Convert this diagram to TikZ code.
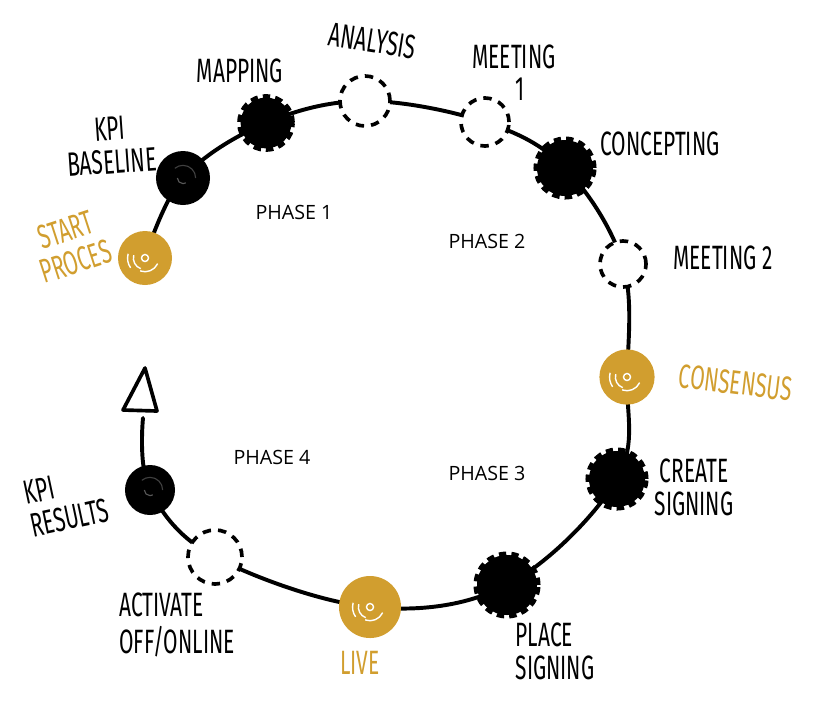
\documentclass[tikz,border=0pt]{standalone}
\usepackage{fontspec}
\usetikzlibrary{backgrounds}
\newfontfamily\handfont{Fira Sans}
\newfontfamily\phasefont{Open Sans}
\definecolor{gold}{RGB}{209,158,47}
\newcommand\hw[2][c]{\scalebox{0.62}[1]{\begin{tabular}{@{}#1@{}}#2\end{tabular}}}
\begin{document}
\begin{tikzpicture}[x=0.025cm, y=-0.025cm,
  ring/.style={line width=2.8pt, line cap=round},
  scribble/.style={circle, fill=black, inner sep=0pt, minimum size=#1,
    path picture={
      \draw[gray!70!black, line width=0.8pt] (path picture bounding box.center) ++(-4pt,0) arc[start angle=180, end angle=300, radius=4pt];
      \draw[gray!50!black, line width=0.8pt] (path picture bounding box.center) ++(9pt,0) arc[start angle=0, end angle=130, radius=9pt];}},
  gear/.style={circle, fill=black, draw=black, line width=5pt, dash pattern=on 5pt off 3.5pt, inner sep=0pt, minimum size=#1},
  dashring/.style={circle, fill=white, draw=black, line width=2.6pt, dash pattern=on 6pt off 5pt, inner sep=0pt, minimum size=#1},
  goldspot/.style={circle, fill=gold, inner sep=0pt, minimum size=#1,
    path picture={
      \draw[white, line width=1pt] (path picture bounding box.center) circle (2.5pt);
      \draw[white, line width=1pt] (path picture bounding box.center) ++(-8pt,2pt) arc[start angle=165, end angle=250, radius=8pt];
      \draw[white, line width=1pt] (path picture bounding box.center) ++(-12pt,3pt) arc[start angle=165, end angle=215, radius=12pt];
      \draw[white, line width=1pt] (path picture bounding box.center) ++(9pt,-4pt) arc[start angle=-25, end angle=-110, radius=10pt];}},
  hand/.style={font=\handfont\fontsize{24}{22}\selectfont, inner sep=0pt},
  phase/.style={font=\phasefont\fontsize{14}{16}\selectfont, inner sep=0pt}]

\useasboundingbox (0,0) rectangle (820,706);

\node(m0)[goldspot=1.35cm] at (145,258) {};
\node(m1)[scribble=1.35cm] at (183,178) {};
\node(m2)[gear=1.27cm] at (266,123) {};
\node(m3)[dashring=1.25cm] at (365,101) {};
\node(m4)[dashring=1.2cm] at (485,122) {};
\node(m5)[gear=1.4cm] at (565,168) {};
\node(m6)[dashring=1.15cm] at (623,264) {};
\node(m7)[goldspot=1.38cm] at (627,377) {};
\node(m8)[gear=1.4cm] at (617,479) {};
\node(m9)[gear=1.5cm] at (507,585) {};
\node(m10)[goldspot=1.55cm] at (370,607) {};
\node(m11)[dashring=1.35cm] at (215,557) {};
\node(m12)[scribble=1.25cm] at (150,490) {};
\coordinate(loopend) at (143,418);

\node(t0)[hand, text=gold, rotate=18] at (72,250) {\hw{START\\PROCES}};
\node(t1)[hand, rotate=4] at (111,150) {\hw{KPI\\BASELINE}};
\node(t2)[hand] at (240,75) {\hw{MAPPING}};
\node(t3)[hand, rotate=-9] at (372,45) {\hw{ANALYSIS}};
\node(t4)[hand] at (514,77) {\hw{MEETING\\\hspace*{0.6em}1}};
\node(t5)[hand] at (660,148) {\hw{CONCEPTING}};
\node(t6)[hand] at (723,262) {\hw{MEETING 2}};
\node(t7)[hand, text=gold, rotate=-7] at (735,387) {\hw{CONSENSUS}};
\node(t8)[hand] at (694,492) {\hw{CREATE\\SIGNING}};
\node(t9)[hand] at (555,656) {\hw[l]{PLACE\\SIGNING}};
\node(t10)[hand, text=gold] at (360,667) {\hw{LIVE}};
\node(t11)[hand] at (177,628) {\hw[l]{ACTIVATE\\OFF/ONLINE}};
\node(t12)[hand, rotate=12] at (67,506) {\hw[l]{KPI\\RESULTS}};

\node(ph1)[phase] at (294,212) {PHASE 1};
\node(ph2)[phase] at (487,241) {PHASE 2};
\node(ph3)[phase] at (487,473) {PHASE 3};
\node(ph4)[phase] at (272,457) {PHASE 4};

\begin{scope}[on background layer]
\draw[ring] plot[smooth, tension=0.6] coordinates {(m0.center) (m1.center) (m2.center) (m3.center) (m4.center) (m5.center) (m6.center) (m7.center) (m8.center) (m9.center) (m10.center) (m11.center) (m12.center) (loopend)};
\end{scope}

\draw[line width=2.6pt, line join=round] (145,368) -- (123,410) -- (157,411) -- cycle;
\end{tikzpicture}
\end{document}
